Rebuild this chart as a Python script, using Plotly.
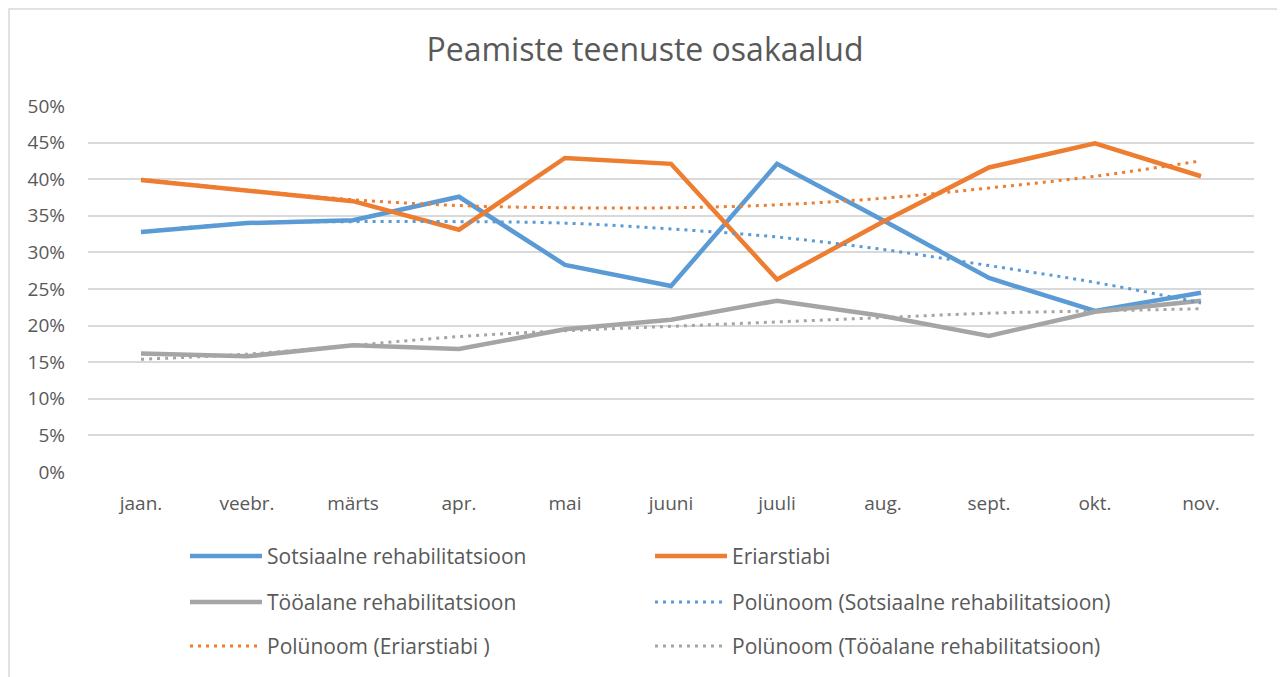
import plotly.graph_objects as go

months = ["jaan.", "veebr.", "märts", "apr.", "mai", "juuni", "juuli", "aug.", "sept.", "okt.", "nov."]

sotsiaalne = [0.328, 0.340, 0.344, 0.376, 0.283, 0.254, 0.421, 0.344, 0.265, 0.220, 0.245]
eriarstiabi = [0.399, 0.385, 0.370, 0.331, 0.429, 0.421, 0.263, 0.342, 0.416, 0.449, 0.404]
tooalane = [0.162, 0.158, 0.173, 0.168, 0.195, 0.208, 0.234, 0.213, 0.186, 0.219, 0.234]

trend_sotsiaalne = [0.328, 0.340, 0.342, 0.342, 0.340, 0.332, 0.321, 0.304, 0.282, 0.259, 0.231]
trend_eriarstiabi = [0.400, 0.385, 0.372, 0.364, 0.361, 0.361, 0.365, 0.374, 0.388, 0.404, 0.425]
trend_tooalane = [0.154, 0.161, 0.173, 0.185, 0.193, 0.199, 0.205, 0.211, 0.217, 0.220, 0.223]

BLUE = "#5B9BD5"
ORANGE = "#ED7D31"
GRAY = "#A5A5A5"
TXT = "#595959"
FONT = "Open Sans"
DOTS = "3px,5px"

series = [
    ("Sotsiaalne rehabilitatsioon", sotsiaalne, BLUE, "solid"),
    ("Eriarstiabi", eriarstiabi, ORANGE, "solid"),
    ("Tööalane rehabilitatsioon", tooalane, GRAY, "solid"),
    ("Polünoom (Sotsiaalne rehabilitatsioon)", trend_sotsiaalne, BLUE, "dot"),
    ("Polünoom (Eriarstiabi )", trend_eriarstiabi, ORANGE, "dot"),
    ("Polünoom (Tööalane rehabilitatsioon)", trend_tooalane, GRAY, "dot"),
]

fig = go.Figure()
for name, vals, col, dash in series:
    if dash == "solid":
        line = dict(color=col, width=4.5)
    else:
        line = dict(color=col, width=3, dash=DOTS, shape="spline")
    fig.add_trace(go.Scatter(x=months, y=vals, name=name, mode="lines", line=line,
                             showlegend=False))

# page body has an 8px margin; lay out in figure coordinates = screen - 8
OFF = 8
W, H = 1285 - OFF, 677 - OFF
L, R, T, B = 88 - OFF, 1254 - OFF, 106 - OFF, 472 - OFF
pw, ph = R - L, B - T
def fx(x): return (x - L) / pw          # figure px -> paper
def fy(y): return (B - y) / ph
def px(xs): return fx(xs - OFF)          # screen px -> paper
def py(ys): return fy(ys - OFF)

shapes = []
annotations = []
# outer chart border (as close to the page edge as the figure allows)
shapes.append(dict(type="rect", xref="paper", yref="paper",
                   x0=fx(1), x1=px(1283), y0=fy(H + 30), y1=fy(1),
                   line=dict(color="#D9D9D9", width=1.5), fillcolor="rgba(0,0,0,0)", layer="below"))

# manual legend: 2 columns x 3 rows (screen coords)
col_x = [190, 655]
row_y = [556, 602, 646]
for i, (name, vals, col, dash) in enumerate(series):
    cx = col_x[i % 2]
    ry = row_y[i // 2]
    if dash == "solid":
        ln = dict(color=col, width=4.5)
    else:
        ln = dict(color=col, width=3, dash=DOTS)
    shapes.append(dict(type="line", xref="paper", yref="paper",
                       x0=px(cx), x1=px(cx + 72), y0=py(ry), y1=py(ry), line=ln))
    annotations.append(dict(text=name, xref="paper", yref="paper", x=px(cx + 75), y=py(ry),
                            xanchor="left", yanchor="middle", showarrow=False,
                            font=dict(family=FONT, size=21, color=TXT)))

fig.update_layout(
    width=W, height=H,
    margin=dict(l=L, r=W - R, t=T, b=H - B, autoexpand=False),
    paper_bgcolor="white", plot_bgcolor="white",
    font=dict(family=FONT, color=TXT, size=19),
    title=dict(text="Peamiste teenuste osakaalud", x=(645 - OFF) / W, xanchor="center",
               y=1 - (50 - OFF) / H, yanchor="middle",
               font=dict(family=FONT, size=32, color=TXT)),
    showlegend=False,
    shapes=shapes,
    annotations=annotations,
    xaxis=dict(type="category", range=[-0.5, 10.5], showgrid=False, zeroline=False,
               showline=False, ticks="", tickfont=dict(family=FONT, size=19, color=TXT),
               ticklabelstandoff=18, fixedrange=True),
    yaxis=dict(range=[0, 0.5], dtick=0.05, tickformat=".0%", showgrid=True,
               gridcolor="#D9D9D9", gridwidth=1.5, zeroline=False, showline=False,
               ticks="", tickfont=dict(family=FONT, size=19, color=TXT), ticklabelstandoff=22,
               fixedrange=True),
)

fig.write_html("out.html")
